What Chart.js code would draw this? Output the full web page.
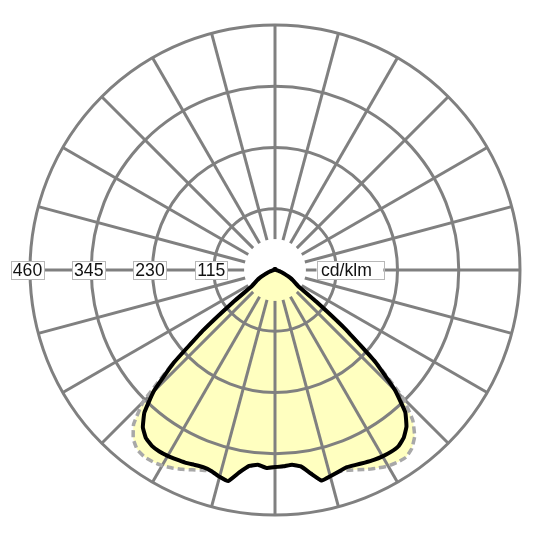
<!DOCTYPE html>
<html>
<head>
<meta charset="utf-8">
<style>
html,body{margin:0;padding:0;background:#fff;}
canvas{display:block;}
</style>
<script src="https://cdn.jsdelivr.net/npm/chart.js@4/dist/chart.umd.min.js"></script>
</head>
<body>
<canvas id="c" width="540" height="540"></canvas>
<script>
// Angles in degrees from nadir (0 = straight down), going clockwise on screen (left half first)
const ANGLES = [
  0,2.5,5,7.5,10,12.5,15,17.5,20,22.5,25,27.5,30,32.5,35,37.5,40,42.5,45,47.5,50,52.5,55,57.5,
  60,62.5,65,67.5,70,72.5,75,77.5,80,82.5,85,87.5,90,92.5,95,97.5,100,102.5,105,107.5,110,112.5,115,117.5,
  120,122.5,125,127.5,130,132.5,135,137.5,140,142.5,145,147.5,150,152.5,155,157.5,160,162.5,165,167.5,170,172.5,175,177.5,
  180,182.5,185,187.5,190,192.5,195,197.5,200,202.5,205,207.5,210,212.5,215,217.5,220,222.5,225,227.5,230,232.5,235,237.5,
  240,242.5,245,247.5,250,252.5,255,257.5,260,262.5,265,267.5,270,272.5,275,277.5,280,282.5,285,287.5,290,292.5,295,297.5,
  300,302.5,305,307.5,310,312.5,315,317.5,320,322.5,325,327.5,330,332.5,335,337.5,340,342.5,345,347.5,350,352.5,355,357.5
];

// C0 - C180 plane (solid line), cd/klm
const C0_C180 = [
  370,372,367,371,386,406,402,396,394,396,399,401,403,404,403,398,386,363,322,258,175,100,54,45,
  39,33,26,20,15,11,8,6,4,3,2,2,2,2,2,2,2,2,2,2,2,2,2,2,
  2,2,2,2,2,2,2,2,2,2,2,2,2,2,2,2,2,2,2,2,2,2,2,2,
  2,2,2,2,2,2,2,2,2,2,2,2,2,2,2,2,2,2,2,2,2,2,2,2,
  2,2,2,2,2,2,2,2,2,2,2,2,2,2,2,3,4,6,8,11,15,20,26,33,
  39,45,54,98,172,255,318,362,384,397,404,405,404,402,399,396,394,397,401,405,388,372,367,369
];

// C90 - C270 plane (dashed line), cd/klm
const C90_C270 = [
  370,372,367,371,386,406,402,396,400,406,413,419,424,427,428,425,414,393,350,262,175,100,54,45,
  39,33,26,20,15,11,8,6,4,3,2,2,2,2,2,2,2,2,2,2,2,2,2,2,
  2,2,2,2,2,2,2,2,2,2,2,2,2,2,2,2,2,2,2,2,2,2,2,2,
  2,2,2,2,2,2,2,2,2,2,2,2,2,2,2,2,2,2,2,2,2,2,2,2,
  2,2,2,2,2,2,2,2,2,2,2,2,2,2,2,3,4,6,8,11,15,20,26,33,
  39,45,54,98,172,258,340,383,408,422,429,428,425,419,413,406,400,397,401,405,388,372,367,369
];

const TICK_VALUES = [115, 230, 345, 460];
const TICK_LABELS = ['115', '230', '345', '460'];
const UNIT_LABEL = 'cd/klm';

const GRID = '#808080';
const FILL = '#ffffc0';
const FONT = '17.6px "Liberation Sans", Arial, sans-serif';

const labelPlugin = {
  id: 'axisLabels',
  afterDraw(chart) {
    const s = chart.scales.r;
    const ctx = chart.ctx;
    ctx.save();
    ctx.font = FONT;
    ctx.textBaseline = 'middle';
    ctx.lineWidth = 1;
    const cy = s.yCenter;
    TICK_VALUES.forEach((v, i) => {
      const r = s.getDistanceFromCenterForValue(v);
      const t = TICK_LABELS[i];
      const w = ctx.measureText(t).width;
      const cx = s.xCenter - r - 2.5;
      const bx = cx - w / 2 - 2, by = cy - 9, bw = w + 4, bh = 18;
      ctx.fillStyle = '#fff';
      ctx.fillRect(bx, by, bw, bh);
      ctx.strokeStyle = '#b8b8b8';
      ctx.strokeRect(Math.round(bx) + 0.5, Math.round(by) + 0.5, Math.round(bw), bh);
      ctx.fillStyle = '#111';
      ctx.textAlign = 'center';
      ctx.fillText(t, cx, cy + 1);
    });
    // unit label
    const w = ctx.measureText(UNIT_LABEL).width;
    const x0 = s.xCenter + 41.5;
    ctx.fillStyle = '#fff';
    ctx.fillRect(x0, cy - 9, w + 16, 18);
    ctx.strokeStyle = '#b8b8b8';
    ctx.strokeRect(Math.round(x0) + 0.5, cy - 9 + 0.5, Math.round(w + 16), 18);
    ctx.fillStyle = '#111';
    ctx.textAlign = 'left';
    ctx.fillText(UNIT_LABEL, x0 + 4.5, cy + 1);
    ctx.restore();
  }
};

function spokeGap(ctx) {
  const s = ctx.chart.scales.r;
  return s.getDistanceFromCenterForValue(58);
}

new Chart(document.getElementById('c'), {
  type: 'radar',
  data: {
    labels: ANGLES,
    datasets: [
      {
        label: 'C0 - C180',
        data: C0_C180,
        borderColor: '#000',
        borderWidth: 4,
        backgroundColor: FILL,
        fill: 'origin',
        pointRadius: 0,
        pointHoverRadius: 0,
        tension: 0.1,
        borderJoinStyle: 'round'
      },
      {
        label: 'C90 - C270',
        data: C90_C270,
        borderColor: '#a8a8a8',
        borderWidth: 3.5,
        borderDash: [7, 4],
        backgroundColor: FILL,
        fill: 'origin',
        pointRadius: 0,
        pointHoverRadius: 0,
        tension: 0.1
      }
    ]
  },
  options: {
    responsive: false,
    animation: false,
    layout: { padding: { left: 30, right: 20, top: 25, bottom: 24 } },
    plugins: {
      legend: { display: false },
      tooltip: { enabled: false },
      filler: { drawTime: 'beforeDraw', propagate: false }
    },
    scales: {
      r: {
        startAngle: 180,
        min: 0,
        max: 460,
        ticks: { display: false, stepSize: 115 },
        pointLabels: { display: false },
        grid: { circular: true, color: GRID, lineWidth: 3 },
        angleLines: {
          display: true,
          color: GRID,
          lineWidth: (ctx) => (ctx.index % 6 === 0 ? 3 : 0),
          borderDash: (ctx) => {
            const s = ctx.chart.scales.r;
            const g = spokeGap(ctx);
            return [s.drawingArea - g, g];
          },
          borderDashOffset: (ctx) => {
            const s = ctx.chart.scales.r;
            return s.drawingArea - spokeGap(ctx);
          }
        }
      }
    }
  },
  plugins: [labelPlugin]
});
</script>
</body>
</html>
